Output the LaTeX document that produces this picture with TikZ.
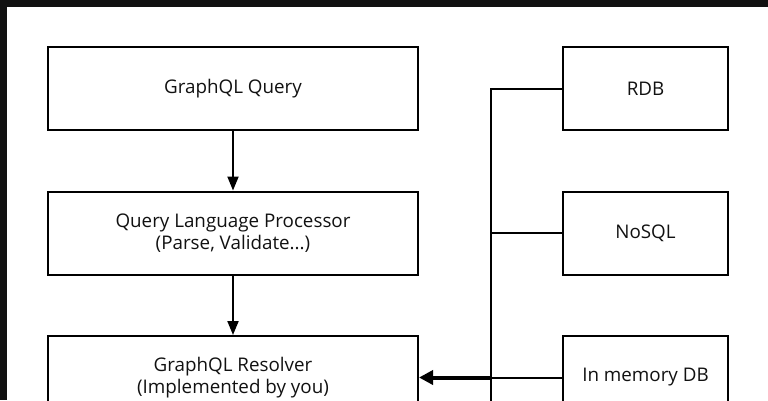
\documentclass[tikz,border=0pt]{standalone}
\usepackage{fontspec}
\setmainfont{Open Sans}
\usetikzlibrary{arrows.meta,positioning}

\definecolor{framegray}{HTML}{111111}
\definecolor{inkgray}{HTML}{111111}

\tikzset{
  box/.style={draw,line width=2pt,minimum width=370pt,minimum height=83pt,
    align=center,text=inkgray,font=\fontsize{18.8}{22}\selectfont},
  store/.style={box,minimum width=165pt},
  flow/.style={line width=2pt,-{Triangle[length=14pt,width=11pt]}},
  wire/.style={line width=2pt},
  fetch/.style={line width=4pt,-{Triangle[length=14pt,width=14pt]}}
}

\begin{document}
\begin{tikzpicture}[x=1pt,y=-1pt]
\clip (0,0) rectangle (768,400);
\useasboundingbox (0,0) rectangle (768,400);

% Frame
\fill[framegray] (0,0) rectangle (768,7);
\fill[framegray] (0,0) rectangle (7,400);

% Pipeline
\node[box] (query) at (233,88.5) {GraphQL Query};
\node[box] (proc) at (233,233) {Query Language Processor\\(Parse, Validate...)};
\node[box] (resolver) at (233,377.5) {GraphQL Resolver\\(Implemented by you)};
\draw[flow] (query) -- (proc);
\draw[flow] (proc) -- (resolver);

% Data stores
\node[store] (rdb) at (645.5,88.5) {RDB};
\node[store] (nosql) at (645.5,233) {NoSQL};
\node[store] (memdb) at (645.5,377.5) {In memory DB};

% Bus
\coordinate (bustop) at (491,88.5);
\coordinate (busbot) at (491,410);
\draw[wire] (rdb.west) -- (bustop) -- (busbot);
\draw[wire] (nosql.west) -- (nosql.west -| bustop);
\draw[wire] (memdb.west) -- (memdb.west -| bustop);
\draw[fetch] (memdb.west -| bustop) -- (resolver.east);
\end{tikzpicture}
\end{document}
